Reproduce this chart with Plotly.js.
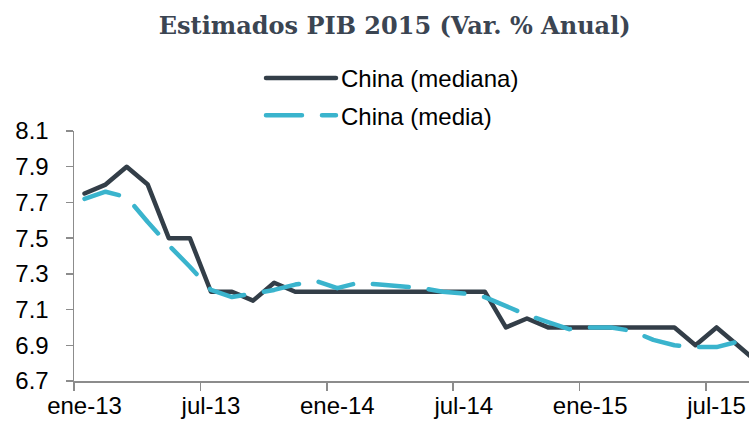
<!DOCTYPE html>
<html>
<head>
<meta charset="utf-8">
<script src="https://cdn.plot.ly/plotly-3.0.1.min.js"></script>
<style>
  html, body { margin: 0; padding: 0; background: #fff; }
  #chart { width: 749px; height: 423px; }
  #chart path.js-line { stroke-linecap: round; stroke-linejoin: round; }
</style>
</head>
<body>
<div id="chart"></div>
<script>
const months = ["ene-13","feb-13","mar-13","abr-13","may-13","jun-13","jul-13","ago-13","sep-13","oct-13","nov-13","dic-13",
                "ene-14","feb-14","mar-14","abr-14","may-14","jun-14","jul-14","ago-14","sep-14","oct-14","nov-14","dic-14",
                "ene-15","feb-15","mar-15","abr-15","may-15","jun-15","jul-15","ago-15","sep-15"];
const chinaMediana = [7.75, 7.8, 7.9, 7.8, 7.5, 7.5, 7.2, 7.2, 7.15, 7.25, 7.2, 7.2,
                      7.2, 7.2, 7.2, 7.2, 7.2, 7.2, 7.2, 7.2, 7.0, 7.05, 7.0, 7.0,
                      7.0, 7.0, 7.0, 7.0, 7.0, 6.9, 7.0, 6.9, 6.8];
const chinaMedia = [7.72, 7.76, 7.73, 7.59, 7.46, 7.34, 7.21, 7.17, 7.19, 7.21, 7.24, 7.26,
                    7.22, 7.25, 7.24, 7.23, 7.22, 7.2, 7.19, 7.17, 7.12, 7.07, 7.03, 6.99,
                    7.0, 7.0, 6.98, 6.93, 6.9, 6.89, 6.89, 6.92, 6.85];
const yTicks = [6.7, 6.9, 7.1, 7.3, 7.5, 7.7, 7.9, 8.1];

const traces = [
  { x: months, y: chinaMediana, type: "scatter", mode: "lines", name: "China (mediana)",
    line: { color: "#333e48", width: 4.5 }, legendgroup: "a" },
  { x: months, y: chinaMedia, type: "scatter", mode: "lines", name: "China (media)",
    line: { color: "#3ab4cd", width: 4.5, dash: "36px,20px" }, legendgroup: "b" }
];

const layout = {
  width: 749, height: 423,
  margin: { l: 74, r: 0, t: 131, b: 42 },
  paper_bgcolor: "#ffffff", plot_bgcolor: "#ffffff",
  font: { family: "Liberation Sans, Arial, sans-serif", size: 24, color: "#000000" },
  title: {
    text: "<b>Estimados PIB 2015 (Var. % Anual)</b>",
    font: { family: "DejaVu Serif, serif", size: 24, color: "#3b4552" },
    x: 0.527, xref: "container", xanchor: "center",
    y: 0.94, yref: "container", yanchor: "middle"
  },
  showlegend: true,
  legend: {
    x: 0.277, xanchor: "left", y: 1.30, yanchor: "top",
    font: { family: "Liberation Sans, Arial, sans-serif", size: 24, color: "#000000" },
    itemwidth: 70, tracegroupgap: 3, traceorder: "grouped",
    bgcolor: "rgba(0,0,0,0)"
  },
  xaxis: {
    type: "category",
    range: [-0.5, 31.54],
    dtick: 6, tick0: 0,
    tickson: "boundaries",
    tickangle: 0,
    ticks: "outside", ticklen: 8, tickwidth: 1.5, tickcolor: "#8c8c8c",
    showline: true, linecolor: "#8c8c8c", linewidth: 1.5,
    showgrid: false, zeroline: false,
    ticklabelstandoff: 3,
    tickfont: { size: 24, color: "#000000" }
  },
  yaxis: {
    range: [6.7, 8.1],
    tickvals: yTicks,
    ticktext: yTicks.map(v => v.toFixed(1)),
    ticks: "outside", ticklen: 7, tickwidth: 1.5, tickcolor: "#8c8c8c",
    showline: true, linecolor: "#8c8c8c", linewidth: 1.5,
    showgrid: false, zeroline: false,
    ticklabelstandoff: 12,
    tickfont: { size: 24, color: "#000000" }
  }
};

Plotly.newPlot("chart", traces, layout, { displayModeBar: false, staticPlot: true });
</script>
</body>
</html>
